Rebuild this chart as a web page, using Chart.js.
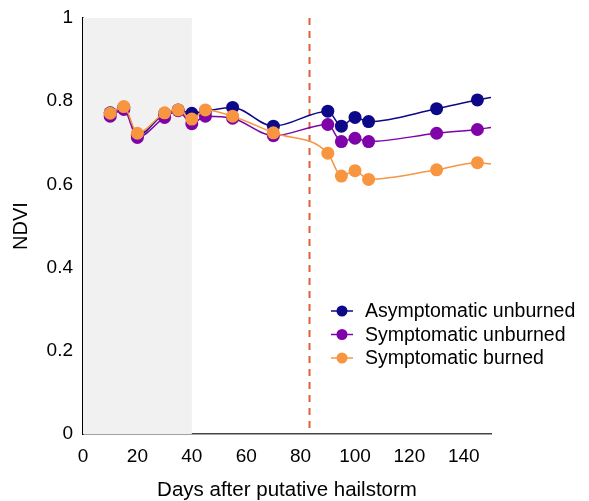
<!DOCTYPE html>
<html>
<head>
<meta charset="utf-8">
<script src="https://cdn.jsdelivr.net/npm/chart.js@4/dist/chart.umd.min.js"></script>
<style>
  html, body { margin: 0; padding: 0; background: #fff; }
  #wrap { width: 589px; height: 501px; }
</style>
</head>
<body>
<div id="wrap"><canvas id="ndviChart"></canvas></div>
<script>
  // Sample data
  const days = [10, 15, 20, 30, 35, 40, 45, 55, 70, 90, 95, 100, 105, 130, 145, 150];
  const asymUnburned = [0.772, 0.785, 0.718, 0.770, 0.779, 0.771, 0.776, 0.785, 0.740, 0.776, 0.740, 0.761, 0.751, 0.782, 0.803, 0.809];
  const symUnburned  = [0.764, 0.780, 0.713, 0.761, 0.777, 0.746, 0.764, 0.759, 0.717, 0.744, 0.703, 0.711, 0.703, 0.723, 0.732, 0.737];
  const symBurned    = [0.771, 0.787, 0.723, 0.772, 0.779, 0.757, 0.779, 0.764, 0.724, 0.675, 0.620, 0.633, 0.612, 0.635, 0.652, 0.649];
  const seriesNames = ['Asymptomatic unburned', 'Symptomatic unburned', 'Symptomatic burned'];
  const seriesColors = ['#0d0887', '#7e03a8', '#f89540'];
  const xTicks = [0, 20, 40, 60, 80, 100, 120, 140];
  const yTicks = [0, 0.2, 0.4, 0.6, 0.8, 1];
  const shadeDays = [0, 40];
  const hailDay = 83;

  // last value only continues the curve, no dot drawn there
  const dotRadius = days.map((d, i) => i === days.length - 1 ? 0 : 6.5);

  function makeSet(label, values, color, order) {
    return {
      label: label,
      data: days.map((d, i) => ({ x: d, y: values[i] })),
      borderColor: color,
      backgroundColor: color,
      borderWidth: 1.5,
      pointRadius: dotRadius,
      pointBorderWidth: 0,
      cubicInterpolationMode: 'monotone',
      order: order
    };
  }

  const backdrop = {
    id: 'backdrop',
    beforeDatasetsDraw(chart) {
      const { ctx, chartArea, scales } = chart;
      const x0 = scales.x.getPixelForValue(shadeDays[0]);
      const x1 = scales.x.getPixelForValue(shadeDays[1]);
      ctx.save();
      ctx.fillStyle = '#f1f1f1';
      ctx.fillRect(x0, chartArea.top, x1 - x0, chartArea.bottom - chartArea.top);
      const xh = Math.round(scales.x.getPixelForValue(hailDay)) + 0.5;
      ctx.strokeStyle = '#e0603a';
      ctx.lineWidth = 2;
      ctx.setLineDash([7, 6]);
      ctx.beginPath();
      ctx.moveTo(xh, chartArea.top);
      ctx.lineTo(xh, chartArea.bottom);
      ctx.stroke();
      ctx.restore();
    }
  };

  const legendBox = {
    id: 'legendBox',
    afterDraw(chart) {
      const ctx = chart.ctx;
      ctx.save();
      ctx.font = '19.5px "Liberation Sans", Arial, sans-serif';
      ctx.textBaseline = 'middle';
      seriesNames.forEach((name, i) => {
        const y = 311 + i * 23.5;
        ctx.strokeStyle = seriesColors[i];
        ctx.lineWidth = 1.5;
        ctx.beginPath();
        ctx.moveTo(331, y);
        ctx.lineTo(353, y);
        ctx.stroke();
        ctx.fillStyle = seriesColors[i];
        ctx.beginPath();
        ctx.arc(342, y, 5.5, 0, Math.PI * 2);
        ctx.fill();
        ctx.fillStyle = '#000';
        ctx.fillText(name, 365, y + 1);
      });
      ctx.restore();
    }
  };

  const ctx1 = document.getElementById('ndviChart').getContext('2d');
  Chart.defaults.font.family = '"Liberation Sans", Arial, sans-serif';
  Chart.defaults.font.size = 19;
  Chart.defaults.color = '#000';

  new Chart(ctx1, {
    type: 'line',
    data: {
      datasets: [
        makeSet(seriesNames[0], asymUnburned, seriesColors[0], 2),
        makeSet(seriesNames[1], symUnburned, seriesColors[1], 1),
        makeSet(seriesNames[2], symBurned, seriesColors[2], 0)
      ]
    },
    options: {
      responsive: true,
      maintainAspectRatio: false,
      animation: false,
      layout: { padding: { top: 18, right: 98, left: 0, bottom: 0 } },
      plugins: { legend: { display: false }, tooltip: { enabled: false } },
      scales: {
        x: {
          type: 'linear',
          min: 0,
          max: 150,
          afterBuildTicks: s => { s.ticks = xTicks.map(v => ({ value: v })); },
          afterFit: s => { s.height = 67; },
          grid: { display: false, drawTicks: true, tickLength: 6, tickColor: '#444' },
          border: { display: true, color: '#444', width: 1.5 },
          ticks: { padding: 5, maxRotation: 0 },
          title: { display: true, text: 'Days after putative hailstorm', font: { size: 20.5 }, padding: { top: 6, bottom: -1.5 } }
        },
        y: {
          min: 0,
          max: 1,
          afterBuildTicks: s => { s.ticks = yTicks.map(v => ({ value: v })); },
          afterFit: s => { s.width = 83; },
          grid: { display: false, drawTicks: true, tickLength: 6, tickColor: '#000' },
          border: { display: true, color: '#000', width: 1.5 },
          ticks: { padding: 4, callback: v => String(Number(v.toFixed(1))) },
          title: { display: true, text: 'NDVI', font: { size: 20 }, padding: { top: 9, bottom: 2 } }
        }
      }
    },
    plugins: [backdrop, legendBox]
  });
</script>
</body>
</html>
